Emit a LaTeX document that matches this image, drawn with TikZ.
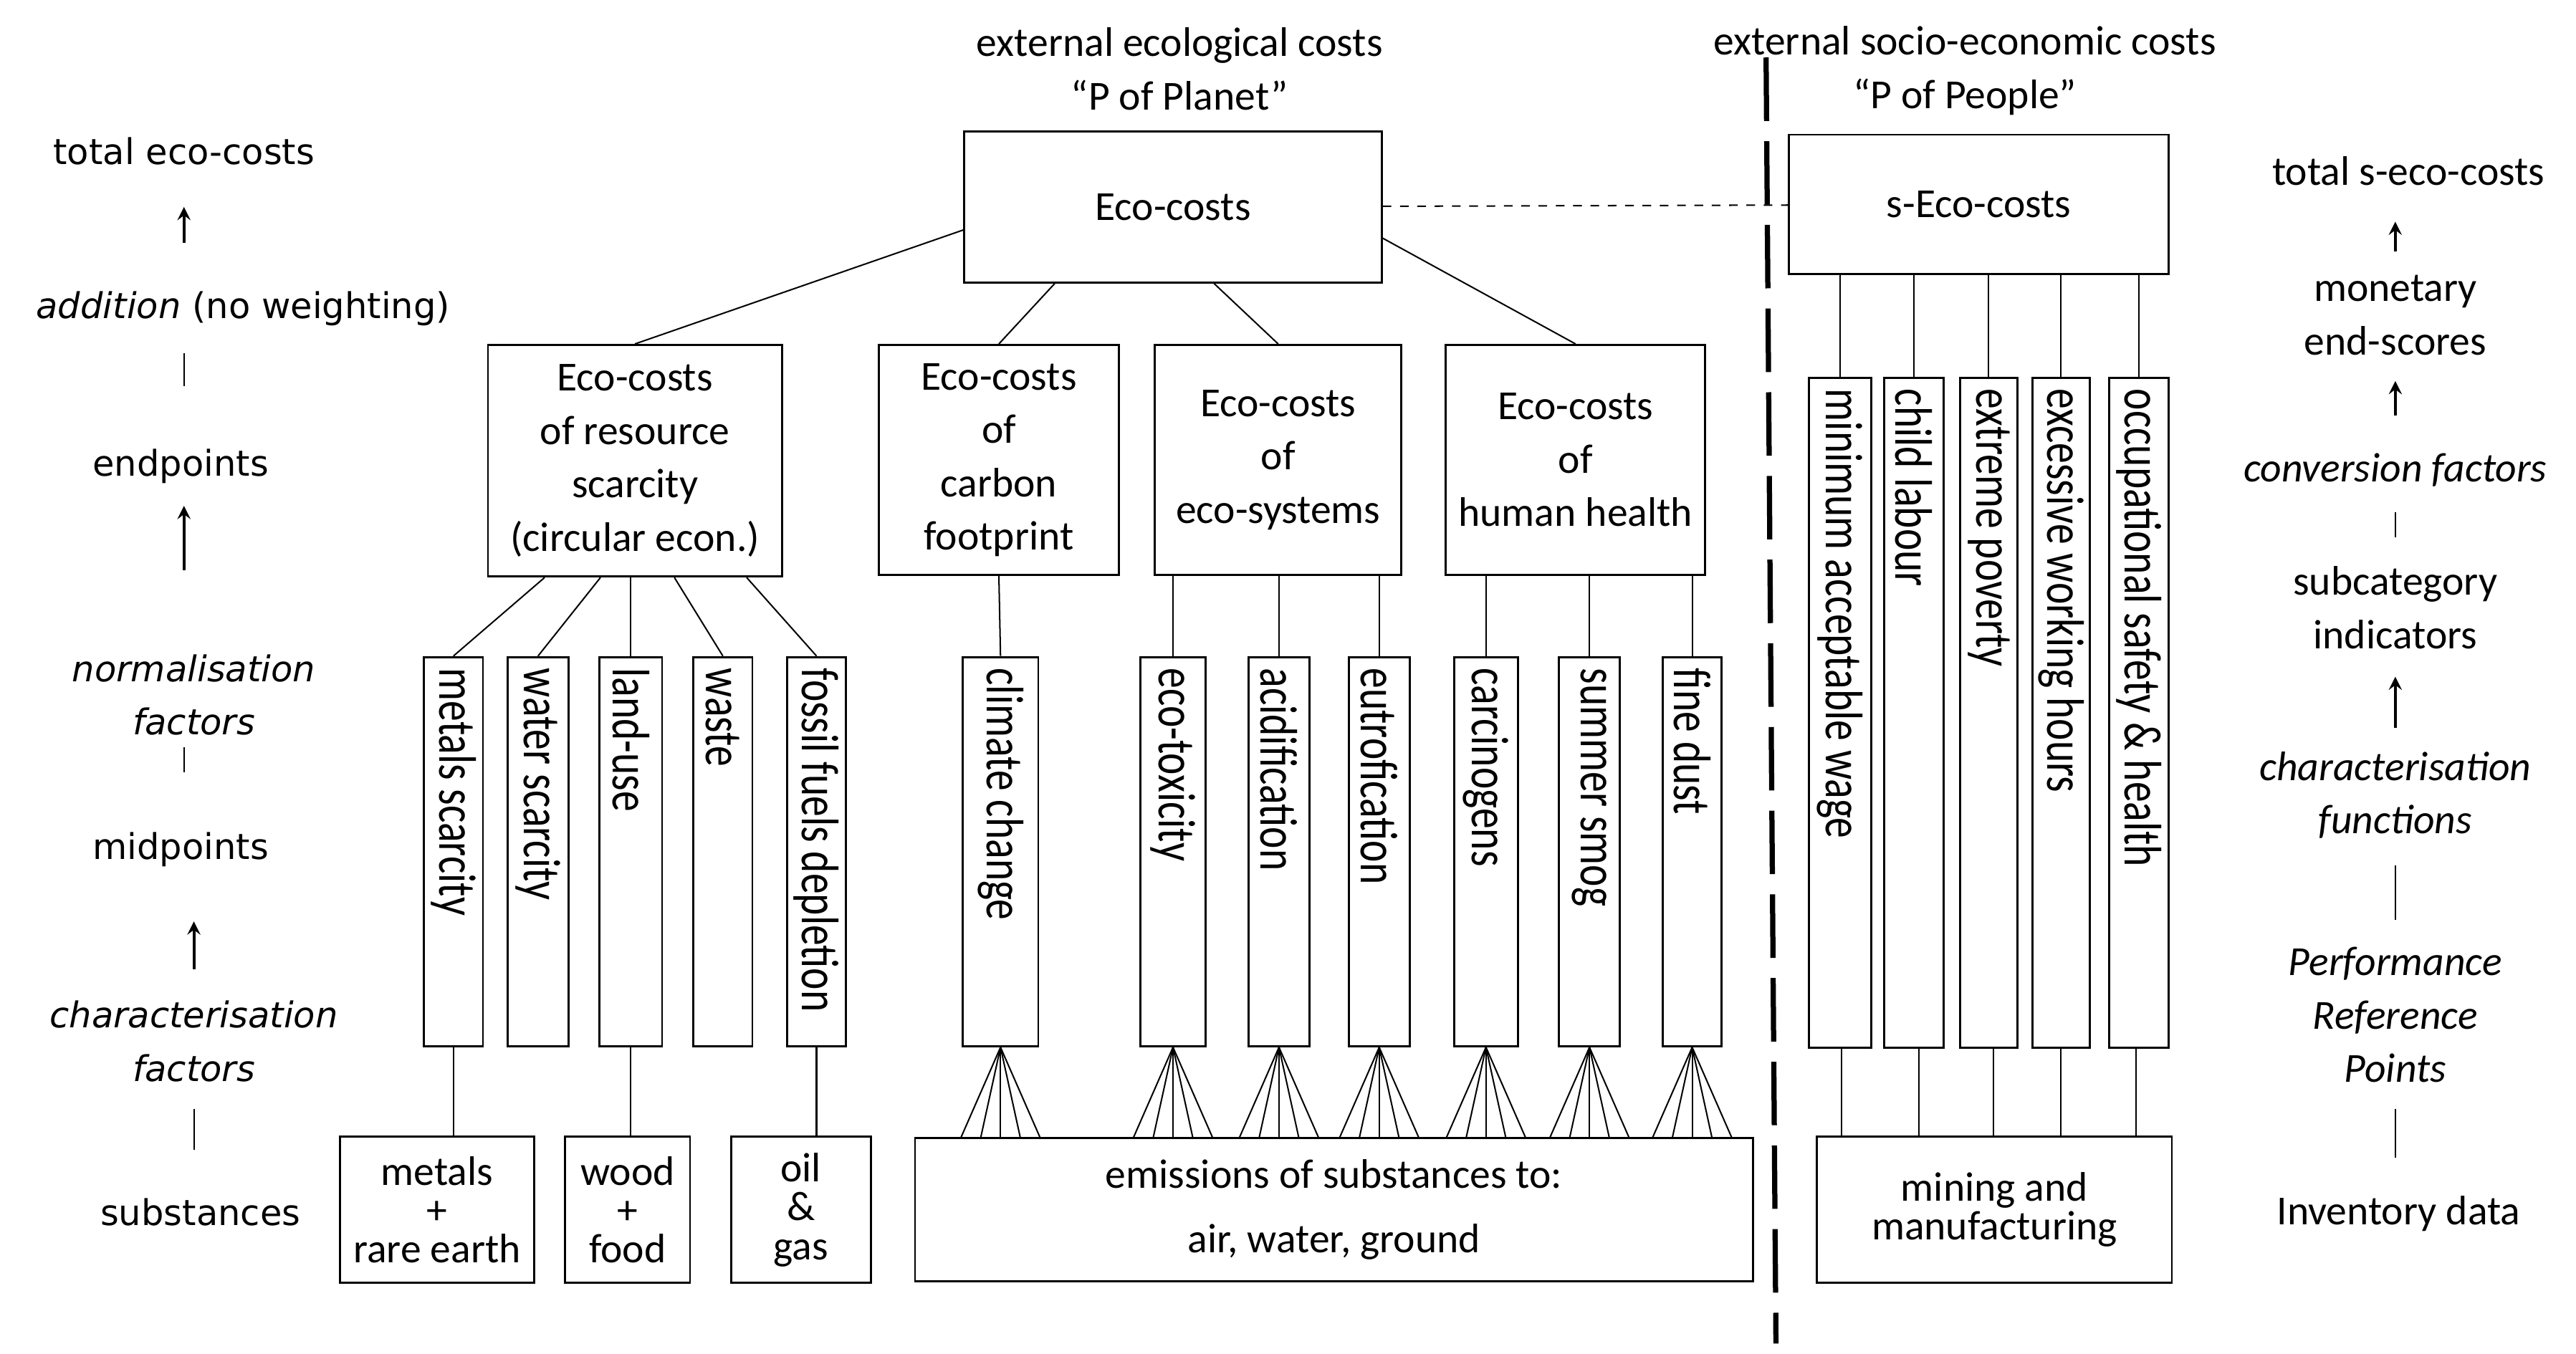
\documentclass[tikz,border=0pt]{standalone}
\usepackage{fontspec}
\setmainfont{Carlito}
\newfontfamily\sidefont{DejaVu Sans}
\usetikzlibrary{calc}
\usetikzlibrary{arrows}

\begin{document}
\begin{tikzpicture}[x=0.02cm, y=-0.02cm, >=stealth,
    every node/.style={font=\fontsize{14.3}{18.5}\selectfont, align=center},
    box/.style 2 args={draw, line width=0.7pt, inner sep=0pt, minimum width={#1*0.02cm}, minimum height={#2*0.02cm}},
    tight/.style={font=\fontsize{14.3}{13.5}\selectfont},
    vlab/.style={rotate=-90, anchor=west, inner sep=4pt, yscale=1.28, font=\fontsize{14.3}{18}\selectfont},
    side/.style={font=\sidefont\fontsize{12.3}{18.5}\selectfont},
    link/.style={line width=0.5pt},
    up/.style={->, line width=1pt}]
    \useasboundingbox (0,0) rectangle (1568,824);

    % headings
    \node (hPlanet) at (718,42) {external ecological costs\\``P of Planet''};
    \node (hPeople) at (1196,43) {external socio-economic costs\\``P of People''};
    \coordinate (sepT) at (1075,35);
    \coordinate (sepB) at (1081,818);
    \draw [line width=1.8pt, dash pattern=on 22pt off 7pt] (sepT) -- (sepB);

    % top level
    \node (EC) at (714,126) [box={254}{92}] {Eco-costs};
    \node (SEC) at (1204.5,124.5) [box={231}{85}] {s-Eco-costs};
    \draw [link, dashed] (EC) -- (SEC);

    % endpoints
    \node (RS) at (386.5,280.5) [box={179}{141}] {Eco-costs\\of resource\\scarcity\\(circular econ.)};
    \node (CF) at (608,280) [box={146}{140}] {Eco-costs\\of\\carbon\\footprint};
    \node (ES) at (778,280) [box={150}{140}] {Eco-costs\\of\\eco-systems};
    \node (HH) at (959,280) [box={158}{140}] {Eco-costs\\of\\human health};

    \draw [link] (EC.west |- 0,140) -- (RS.north);
    \draw [link] ([xshift=-72*0.02cm]EC.south) -- (CF.north);
    \draw [link] ([xshift=25*0.02cm]EC.south) -- (ES.north);
    \draw [link] (EC.east |- 0,145) -- (HH.north);

    % midpoints
    \node (ms) at (276,518.5) [box={36}{237}] {};
    \node (ws) at (327.5,518.5) [box={37}{237}] {};
    \node (lu) at (384,518.5) [box={38}{237}] {};
    \node (wa) at (440,518.5) [box={36}{237}] {};
    \node (ff) at (497,518.5) [box={36}{237}] {};
    \node (cc) at (609,518.5) [box={46}{237}] {};
    \node (et) at (714,518.5) [box={40}{237}] {};
    \node (ac) at (778.5,518.5) [box={37}{237}] {};
    \node (eu) at (839.5,518.5) [box={37}{237}] {};
    \node (ca) at (904.5,518.5) [box={39}{237}] {};
    \node (sm) at (967.5,518.5) [box={37}{237}] {};
    \node (fd) at (1030,518.5) [box={36}{237}] {};

    \node (msL) at (ms.north) [vlab] {metals scarcity};
    \node (wsL) at (ws.north) [vlab] {water scarcity};
    \node (luL) at (lu.north) [vlab] {land-use};
    \node (waL) at (wa.north) [vlab] {waste};
    \node (ffL) at (ff.north) [vlab] {fossil fuels depletion};
    \node (ccL) at (cc.north) [vlab] {climate change};
    \node (etL) at (et.north) [vlab] {eco-toxicity};
    \node (acL) at (ac.north) [vlab] {acidification};
    \node (euL) at (eu.north) [vlab] {eutrofication};
    \node (caL) at (ca.north) [vlab] {carcinogens};
    \node (smL) at (sm.north) [vlab] {summer smog};
    \node (fdL) at (fd.north) [vlab] {fine dust};

    \draw [link] ([xshift=-55*0.02cm]RS.south) -- (ms.north);
    \draw [link] ([xshift=-21*0.02cm]RS.south) -- (ws.north);
    \draw [link] (RS.south -| lu.north) -- (lu.north);
    \draw [link] ([xshift=24*0.02cm]RS.south) -- (wa.north);
    \draw [link] ([xshift=68*0.02cm]RS.south) -- (ff.north);
    \draw [link] (CF.south) -- (cc.north);
    \draw [link] (ES.south -| et.north) -- (et.north);
    \draw [link] (ES.south -| ac.north) -- (ac.north);
    \draw [link] (ES.south -| eu.north) -- (eu.north);
    \draw [link] (HH.south -| ca.north) -- (ca.north);
    \draw [link] (HH.south -| sm.north) -- (sm.north);
    \draw [link] (HH.south -| fd.north) -- (fd.north);

    % social subcategories
    \node (mw) at (1120,434) [box={38}{408}] {};
    \node (cl) at (1165,434) [box={36}{408}] {};
    \node (ep) at (1210.5,434) [box={35}{408}] {};
    \node (ew) at (1254.5,434) [box={35}{408}] {};
    \node (os) at (1302,434) [box={36}{408}] {};

    \node (mwL) at (mw.north) [vlab] {minimum acceptable wage};
    \node (clL) at (cl.north) [vlab] {child labour};
    \node (epL) at (ep.north) [vlab] {extreme poverty};
    \node (ewL) at (ew.north) [vlab] {excessive working hours};
    \node (osL) at (os.north) [vlab] {occupational safety \& health};

    \draw [link] (SEC.south -| mw.north) -- (mw.north);
    \draw [link] (SEC.south -| cl.north) -- (cl.north);
    \draw [link] (SEC.south -| ep.north) -- (ep.north);
    \draw [link] (SEC.south -| ew.north) -- (ew.north);
    \draw [link] (SEC.south -| os.north) -- (os.north);

    % substances
    \node (MR) at (266,736.5) [box={118}{89}, tight] {metals\\+\\rare earth};
    \node (WF) at (382,736.5) [box={76}{89}, tight] {wood\\+\\food};
    \node (OG) at (487.5,736.5) [box={85}{89}, tight] {oil\\\&\\gas};
    \node (EM) at (812,736.5) [box={510}{87}] {emissions of substances to:\\[4pt]air, water, ground};
    \node (MM) at (1214,736.5) [box={216}{89}, tight] {mining and\\manufacturing};

    \draw [link] (ms.south) -- (ms.south |- MR.north);
    \draw [link] (lu.south) -- (lu.south |- WF.north);
    \draw [link] (ff.south) -- (ff.south |- OG.north);
    \foreach \m in {cc,et,ac,eu,ca,sm,fd}
        \foreach \d in {-24,-12,0,12,24}
            \draw [link] (\m.south) -- ([xshift=\d*0.02cm]\m.south |- EM.north);
    \foreach \m/\d in {mw/1,cl/3,ep/3,ew/0,os/-2}
        \draw [link] ([xshift=\d*0.02cm]\m.south) -- ([xshift=\d*0.02cm]\m.south |- MM.north);

    % left column
    \node (lTot) at (112,92) [side] {total eco-costs};
    \node (lAdd) at (148,188) [side] {\textit{addition} (no weighting)};
    \node (lEnd) at (110,284) [side] {endpoints};
    \node (lNorm) at (118,423) [side] {\textit{normalisation}\\\textit{factors}};
    \node (lMid) at (110,517) [side] {midpoints};
    \node (lChar) at (118,634) [side] {\textit{characterisation}\\\textit{factors}};
    \node (lSub) at (122,738) [side] {substances};
    \coordinate (la1) at (112,148); \coordinate (la2) at (112,126);
    \coordinate (lb1) at (112,215); \coordinate (lb2) at (112,235);
    \coordinate (lc1) at (112,347); \coordinate (lc2) at (112,308);
    \coordinate (ld1) at (112,455); \coordinate (ld2) at (112,470);
    \coordinate (le1) at (118,590); \coordinate (le2) at (118,561);
    \coordinate (lf1) at (118,675); \coordinate (lf2) at (118,700);
    \draw [up] (la1) -- (la2);
    \draw [link] (lb1) -- (lb2);
    \draw [up] (lc1) -- (lc2);
    \draw [link] (ld1) -- (ld2);
    \draw [up] (le1) -- (le2);
    \draw [link] (lf1) -- (lf2);

    % right column
    \node (rTot) at (1466,104) {total s-eco-costs};
    \node (rMon) at (1458,192) {monetary\\end-scores};
    \node (rConv) at (1458,286) {\textit{conversion factors}};
    \node (rSub) at (1458,370) {subcategory\\indicators};
    \node (rChar) at (1458,484) {\textit{characterisation}\\\textit{functions}};
    \node (rPerf) at (1458,618) {\textit{Performance}\\\textit{Reference}\\\textit{Points}};
    \node (rInv) at (1460,739) {Inventory data};
    \coordinate (ra1) at (1458,153); \coordinate (ra2) at (1458,135);
    \coordinate (rb1) at (1458,253); \coordinate (rb2) at (1458,232);
    \coordinate (rc1) at (1458,312); \coordinate (rc2) at (1458,327);
    \coordinate (rd1) at (1458,443); \coordinate (rd2) at (1458,412);
    \coordinate (re1) at (1458,527); \coordinate (re2) at (1458,560);
    \coordinate (rf1) at (1458,675); \coordinate (rf2) at (1458,705);
    \draw [up] (ra1) -- (ra2);
    \draw [up] (rb1) -- (rb2);
    \draw [link] (rc1) -- (rc2);
    \draw [up] (rd1) -- (rd2);
    \draw [link] (re1) -- (re2);
    \draw [link] (rf1) -- (rf2);
\end{tikzpicture}
\end{document}
